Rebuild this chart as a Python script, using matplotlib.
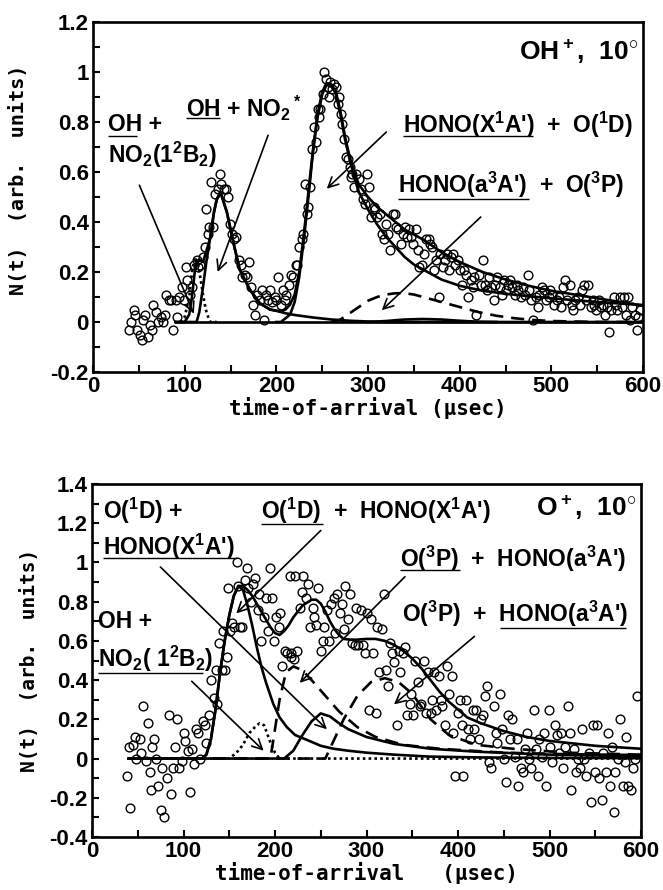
import matplotlib
matplotlib.use("Agg")
import matplotlib.pyplot as plt
from matplotlib.ticker import MultipleLocator, FuncFormatter

plt.rcParams['font.family'] = ['Liberation Sans', 'DejaVu Sans']
plt.rcParams['font.weight'] = 'bold'
plt.rcParams['mathtext.fontset'] = 'custom'
plt.rcParams['mathtext.rm'] = 'Liberation Sans:bold'
plt.rcParams['mathtext.bf'] = 'Liberation Sans:bold'
plt.rcParams['mathtext.it'] = 'Liberation Sans:bold'
plt.rcParams['mathtext.default'] = 'bf'

# ---------------- Top panel (OH+, 10 deg) ----------------
top_pts_t = [39,41,45,46,48,51,53,55,57,60,62,64,65,69,71,74,76,78,80,83,85,87,90,92,94,97,99,101,103,106,108,110,113,115,117,120,122,123,125,127,129,131,133,136,138,140,143,145,147,149,152,154,156,159,161,163,166,168,170,172,175,177,179,182,184,186,189,191,193,195,198,200,202,205,207,209,211,214,216,218,221,223,225,228,229,231,233,235,237,239,241,243,245,246,248,251,252,254,256,257,259,261,263,265,267,268,270,272,274,276,278,280,281,283,285,287,290,292,294,297,299,301,303,306,308,310,313,315,317,320,322,324,327,329,331,333,336,338,340,343,345,347,349,352,354,356,359,361,363,366,368,370,372,374,377,379,382,384,386,388,391,393,395,398,400,402,405,407,409,412,414,416,418,421,423,425,428,430,432,434,437,439,441,444,446,448,451,453,455,457,460,462,464,467,469,471,474,476,478,480,483,485,487,490,492,494,497,499,501,503,506,508,510,513,515,517,520,522,524,526,529,531,533,536,538,540,543,545,547,549,552,554,556,559,561,563,565,568,570,572,575,577,579,581,584,586,588,591,593,595,597]
top_pts_y = [-0.03,0.0,0.05,0.03,-0.03,-0.05,-0.07,0.01,0.03,-0.06,-0.01,-0.03,0.07,0.04,0.0,0.02,0.0,0.03,0.11,0.09,0.09,-0.03,0.09,0.02,0.1,0.14,0.09,0.22,0.17,0.11,0.14,0.23,0.25,0.22,0.23,0.26,0.3,0.45,0.35,0.38,0.56,0.38,0.51,0.53,0.59,0.55,0.53,0.53,0.5,0.39,0.35,0.33,0.34,0.25,0.23,0.18,0.19,0.18,0.24,0.14,0.07,0.03,0.11,0.09,0.13,0.01,0.11,0.09,0.13,0.08,0.1,0.09,0.18,0.07,0.13,0.09,0.11,0.15,0.19,0.18,0.23,0.23,0.3,0.33,0.35,0.55,0.43,0.46,0.54,0.69,0.78,0.72,0.85,0.82,0.85,0.91,1.0,0.97,0.94,0.9,0.96,0.93,0.95,0.94,0.87,0.9,0.83,0.79,0.73,0.66,0.65,0.62,0.58,0.59,0.54,0.59,0.57,0.53,0.49,0.47,0.59,0.54,0.42,0.46,0.45,0.42,0.43,0.35,0.33,0.39,0.35,0.29,0.43,0.43,0.38,0.37,0.31,0.35,0.38,0.34,0.37,0.34,0.31,0.37,0.29,0.22,0.23,0.27,0.33,0.33,0.31,0.3,0.21,0.25,0.1,0.27,0.22,0.25,0.27,0.21,0.26,0.27,0.23,0.25,0.21,0.15,0.21,0.19,0.1,0.17,0.14,0.18,0.03,0.19,0.15,0.25,0.15,0.13,0.18,0.14,0.09,0.15,0.18,0.14,0.11,0.17,0.13,0.15,0.17,0.14,0.11,0.15,0.13,0.1,0.14,0.11,0.19,0.13,0.09,0.01,0.1,0.06,0.11,0.14,0.13,0.09,0.1,0.13,0.11,0.07,0.09,0.1,0.06,0.14,0.17,0.09,0.15,0.07,0.05,0.09,0.1,0.07,0.13,0.15,0.09,0.15,0.06,0.09,0.07,0.05,0.09,0.06,0.07,0.03,0.06,-0.04,0.05,0.1,0.07,0.05,0.1,0.06,0.1,0.03,0.1,0.01,0.06,0.03,-0.03,0.02,0.05]

# total fit
top_total_t = [90,100,105,108,111,113,116,120,125,128,132,135,139,146,153,160,171,182,193,200,205,210,215,220,225,230,235,240,245,250,255,260,265,270,275,280,285,290,300,310,320,330,340,350,360,380,400,425,450,475,500,525,550,575,600]
top_total_y = [0,0.0,0.03,0.1,0.2,0.24,0.25,0.24,0.3,0.34,0.44,0.49,0.52,0.44,0.32,0.21,0.13,0.075,0.05,0.045,0.043,0.05,0.07,0.11,0.2,0.35,0.52,0.69,0.83,0.92,0.955,0.95,0.92,0.84,0.74,0.66,0.6,0.55,0.5,0.46,0.43,0.4,0.37,0.35,0.33,0.28,0.24,0.2,0.17,0.145,0.125,0.11,0.095,0.08,0.065]
# OH + NO2(1 2B2) component (dotted)
top_a_t = [95,100,105,108,111,114,117,120,123,126,128,135]
top_a_y = [0,0.02,0.1,0.2,0.26,0.24,0.18,0.11,0.05,0.015,0,0]
# OH + NO2* component (solid)
top_b_t = [90,113,116,120,124,128,132,135,139,146,153,160,171,182,193,200,210,220,240,260,280,300,320,600]
top_b_y = [0,0,0.04,0.14,0.25,0.34,0.44,0.49,0.52,0.44,0.32,0.21,0.13,0.075,0.05,0.045,0.035,0.028,0.018,0.01,0.005,0.002,0,0]
# HONO(X1A') + O(1D) component (solid)
top_c_t = [200,205,215,220,225,230,235,240,245,250,255,260,265,270,275,280,285,290,300,310,320,330,340,350,360,380,400,425,450,475,500,550,600]
top_c_y = [0,0,0.03,0.08,0.18,0.33,0.5,0.68,0.82,0.91,0.95,0.95,0.91,0.83,0.73,0.65,0.58,0.52,0.45,0.39,0.34,0.3,0.26,0.23,0.21,0.17,0.145,0.125,0.113,0.103,0.095,0.08,0.068]
# HONO(a3A') + O(3P) component (dashed)
top_d_t = [260,270,280,290,300,310,320,330,340,350,360,380,400,420,440,460,480,500,550,600]
top_d_y = [0,0.01,0.035,0.06,0.085,0.1,0.11,0.115,0.115,0.11,0.1,0.08,0.06,0.04,0.025,0.015,0.008,0.004,0.0,0.0]
# small solid bump near baseline
top_e_t = [300,320,340,360,380,400,420,440]
top_e_y = [0,0.004,0.01,0.012,0.01,0.005,0.001,0]

# ---------------- Bottom panel (O+, 10 deg) ----------------
bot_pts_t = [38,40,42,45,47,48,52,54,56,59,61,63,65,66,68,70,72,75,77,79,82,84,86,88,91,93,95,98,100,102,105,107,109,112,114,116,118,121,123,125,128,130,133,135,137,139,142,143,145,148,149,151,153,155,158,160,162,164,167,169,171,174,176,178,181,183,185,188,190,192,194,197,199,201,204,206,208,211,213,216,217,218,221,222,224,227,229,231,234,236,238,241,243,245,247,250,252,254,257,259,261,264,266,268,271,273,275,277,280,282,284,287,289,291,294,296,298,300,303,305,307,310,312,314,317,319,321,324,326,328,330,333,335,337,340,342,344,347,349,351,353,356,358,360,363,365,367,370,372,374,376,379,381,383,386,388,390,393,395,397,400,402,404,406,409,411,413,416,418,420,423,425,427,429,432,434,436,439,441,443,446,448,450,453,455,457,459,462,464,466,469,471,473,475,478,480,483,485,487,489,492,494,496,499,501,503,506,508,510,513,515,517,520,522,524,527,529,531,533,536,538,540,543,545,548,550,552,554,557,559,562,564,566,568,570,572,575,577,580,582,584,586,589,591,593,596]
bot_pts_y = [-0.09,0.06,-0.25,0.07,0.11,0.0,0.1,0.03,0.27,-0.01,0.18,-0.07,-0.16,0.06,0.1,0.0,-0.14,-0.26,-0.05,-0.3,-0.1,0.22,-0.18,-0.05,0.06,0.2,-0.05,-0.01,0.13,0.09,0.04,-0.17,0.05,-0.03,0.15,0.13,0.0,0.19,0.17,0.08,0.22,0.4,0.31,0.45,0.28,0.59,0.45,0.65,0.45,0.52,0.87,0.65,0.69,0.67,1.0,0.88,0.67,0.67,0.91,0.97,0.87,0.8,0.89,0.92,0.76,0.84,0.6,0.72,0.82,0.65,0.97,0.82,0.6,0.72,0.67,0.74,0.47,0.55,0.54,0.93,0.52,0.54,0.51,0.93,0.55,0.77,0.85,0.93,0.82,0.89,0.67,0.77,0.72,0.68,0.87,0.55,0.6,0.67,0.76,0.6,0.79,0.82,0.64,0.84,0.74,0.79,0.66,0.88,0.71,0.84,0.59,0.58,0.77,0.58,0.76,0.58,0.54,0.74,0.25,0.71,0.54,0.23,0.67,0.44,0.66,0.84,0.45,0.37,0.59,0.54,0.49,0.17,0.55,0.44,0.54,0.57,0.22,0.28,0.33,0.22,0.5,0.39,0.27,0.28,0.5,0.23,0.44,0.23,0.3,0.44,0.25,0.42,0.3,0.27,0.17,0.47,0.33,0.42,0.13,-0.09,0.23,0.3,0.17,-0.09,0.3,0.15,0.1,0.25,0.15,0.25,0.1,0.2,0.22,0.32,0.37,-0.02,-0.05,0.27,0.13,0.08,0.33,0.15,0.0,-0.12,0.22,0.1,0.2,0.01,0.1,-0.14,-0.05,-0.07,0.05,0.13,0.0,-0.05,0.25,0.05,-0.09,0.1,0.01,0.13,-0.14,0.25,0.06,-0.02,0.17,0.12,0.03,0.13,-0.05,0.06,0.27,0.13,-0.16,0.05,-0.07,0.0,-0.05,0.15,0.0,-0.09,0.03,-0.22,0.17,-0.07,0.17,-0.1,-0.21,0.03,-0.07,0.13,-0.14,0.06,-0.27,-0.07,0.0,0.2,-0.14,-0.02,0.11,-0.14,-0.16,-0.05,0.0,0.32]

bot_total_t = [40,120,125,130,135,140,145,150,155,160,165,170,175,180,185,190,195,200,205,210,215,220,230,240,245,250,255,260,265,270,275,285,300,310,320,330,340,350,360,370,380,390,400,410,425,450,475,500,550,600]
bot_total_y = [0,0,0.02,0.1,0.25,0.44,0.6,0.73,0.83,0.88,0.88,0.86,0.83,0.79,0.75,0.71,0.67,0.64,0.63,0.65,0.68,0.72,0.78,0.81,0.81,0.79,0.75,0.7,0.66,0.63,0.61,0.605,0.61,0.61,0.6,0.58,0.55,0.51,0.46,0.4,0.34,0.29,0.25,0.21,0.18,0.14,0.11,0.09,0.065,0.05]
# O(1D) + HONO(X1A') component (solid)
bot_a_t = [40,120,125,130,135,140,145,150,155,160,165,170,175,180,185,190,198,205,213,222,235,250,264,280,300,330,369,420,500,600]
bot_a_y = [0,0,0.02,0.1,0.25,0.44,0.6,0.73,0.83,0.88,0.86,0.78,0.68,0.57,0.47,0.39,0.28,0.21,0.16,0.12,0.095,0.065,0.05,0.04,0.03,0.02,0.01,0.006,0.003,0.002]
# small solid component
bot_b_t = [40,210,220,230,240,250,260,270,280,300,330,370,420,500,600]
bot_b_y = [0,0,0.04,0.12,0.19,0.23,0.215,0.18,0.15,0.11,0.075,0.05,0.035,0.02,0.012]
# OH + NO2(1 2B2) component (dotted)
bot_c_t = [40,150,158,165,172,178,183,188,192,196,200,205,600]
bot_c_y = [0,0,0.03,0.07,0.13,0.16,0.18,0.17,0.12,0.07,0.03,0,0]
# O(3P) + HONO(a3A') first (dashed)
bot_d_t = [40,195,200,205,212,220,230,240,255,270,290,310,340,380,450,520,600]
bot_d_y = [0,0,0.15,0.3,0.44,0.47,0.45,0.4,0.32,0.24,0.16,0.11,0.07,0.05,0.03,0.022,0.018]
# O(3P) + HONO(a3A') second (dashed)
bot_e_t = [40,255,265,275,290,305,320,335,350,370,390,420,460,520,600]
bot_e_y = [0,0,0.1,0.2,0.32,0.39,0.41,0.39,0.33,0.2,0.12,0.07,0.05,0.03,0.02]

fig = plt.figure(figsize=(6.63, 8.9), dpi=100)
ax1 = fig.add_axes([93/663, 1-372/890, 550/663, 350/890])
ax2 = fig.add_axes([92/663, 1-837/890, 549/663, 353/890])

LW = 1.9
MS = 6.3
FS = 16.5       # annotation text
TFS = 16        # tick labels
XFONT = dict(family='DejaVu Sans Mono', weight='bold', size=15)
YFONT1 = dict(family='DejaVu Sans Mono', weight='bold', size=14.5)
YFONT2 = dict(family='DejaVu Sans Mono', weight='bold', size=14)

def style(ax, ymin, ymax):
    ax.set_xlim(0, 600)
    ax.set_ylim(ymin, ymax)
    ax.xaxis.set_major_locator(MultipleLocator(100))
    ax.xaxis.set_minor_locator(MultipleLocator(50))
    ax.yaxis.set_major_locator(MultipleLocator(0.2))
    ax.yaxis.set_minor_locator(MultipleLocator(0.1))
    ax.yaxis.set_major_formatter(FuncFormatter(lambda v, p: f"{v:g}" if abs(v) > 1e-9 else "0"))
    ax.tick_params(which='both', direction='in', top=False, right=False, width=1.5)
    ax.tick_params(which='major', length=5, labelsize=TFS, pad=3)
    ax.tick_params(which='minor', length=5)
    for s in ax.spines.values():
        s.set_linewidth(1.9)
    for lab in ax.get_xticklabels() + ax.get_yticklabels():
        lab.set_fontweight('bold')

def underline(ax, t0, t1, y):
    ax.plot([t0, t1], [y, y], color='black', lw=1.0, solid_capstyle='butt')

def arrow(ax, start, end):
    ax.annotate('', xy=end, xytext=start,
                arrowprops=dict(arrowstyle='->', lw=1.2, color='black',
                                mutation_scale=18, shrinkA=0, shrinkB=0))

# ---- top ----
style(ax1, -0.2, 1.2)
ax1.plot(top_pts_t, top_pts_y, 'o', mfc='none', mec='black', ms=MS, mew=1.0)
ax1.plot([90, 600], [0, 0], color='black', lw=LW)
ax1.plot(top_a_t, top_a_y, color='black', lw=LW, ls=(0, (1, 1.2)))
ax1.plot(top_b_t, top_b_y, color='black', lw=LW)
ax1.plot(top_c_t, top_c_y, color='black', lw=LW)
ax1.plot(top_d_t, top_d_y, color='black', lw=LW, ls=(0, (5, 3)))
ax1.plot(top_e_t, top_e_y, color='black', lw=LW)
ax1.plot(top_total_t, top_total_y, color='black', lw=LW)

ax1.text(16, 0.79, 'OH +', fontsize=FS, va='center', ha='left')
underline(ax1, 16, 48, 0.745)
ax1.text(16, 0.67, r'NO$_2$(1$^2$B$_2$)', fontsize=FS, va='center', ha='left')
arrow(ax1, (50.6, 0.547), (110, 0.033))
ax1.text(101, 0.853, r'OH + NO$_2$$^*$', fontsize=FS, va='center', ha='left')
underline(ax1, 101, 138, 0.815)
arrow(ax1, (191, 0.747), (136, 0.2))
ax1.text(338, 0.787, r"HONO(X$^1$A')  +  O($^1$D)", fontsize=FS, va='center', ha='left')
underline(ax1, 338, 480, 0.745)
arrow(ax1, (320, 0.76), (255, 0.533))
ax1.text(333, 0.547, r"HONO(a$^3$A')  +  O($^3$P)", fontsize=FS, va='center', ha='left')
underline(ax1, 333, 476, 0.493)
arrow(ax1, (423, 0.42), (315, 0.047))
ax1.text(595, 1.08, r'OH$^+$,  10$^{\circ}$', fontsize=19, va='center', ha='right')

ax1.set_xlabel('time-of-arrival (\u03bcsec)', fontdict=XFONT, labelpad=0)
ax1.set_ylabel('N(t)  (arb.  units)', fontdict=YFONT1)
ax1.yaxis.set_label_coords(-0.118, 0.55)

# ---- bottom ----
style(ax2, -0.4, 1.4)
ax2.plot(bot_pts_t, bot_pts_y, 'o', mfc='none', mec='black', ms=MS, mew=1.0)
ax2.plot(bot_c_t, bot_c_y, color='black', lw=LW, ls=(0, (1, 1.2)))
ax2.plot(bot_d_t, bot_d_y, color='black', lw=LW, ls=(0, (5, 3)))
ax2.plot(bot_e_t, bot_e_y, color='black', lw=LW, ls=(0, (5, 3)))
ax2.plot(bot_a_t, bot_a_y, color='black', lw=LW)
ax2.plot(bot_b_t, bot_b_y, color='black', lw=LW)
ax2.plot(bot_total_t, bot_total_y, color='black', lw=LW)

ax2.text(12, 1.265, r'O($^1$D) +', fontsize=FS, va='center', ha='left')
ax2.text(12, 1.08, r"HONO(X$^1$A')", fontsize=FS, va='center', ha='left')
underline(ax2, 12, 158, 1.025)
arrow(ax2, (74.7, 0.977), (256.7, 0.149))
ax2.text(6.5, 0.70, 'OH +', fontsize=FS, va='center', ha='left')
ax2.text(6.5, 0.51, r'NO$_2$( 1$^2$B$_2$)', fontsize=FS, va='center', ha='left')
underline(ax2, 6.5, 121, 0.437)
arrow(ax2, (109, 0.394), (187.6, 0.04))
ax2.text(185, 1.265, r"O($^1$D)  +  HONO(X$^1$A')", fontsize=FS, va='center', ha='left')
underline(ax2, 185, 252, 1.197)
arrow(ax2, (250, 1.163), (157.6, 0.74))
ax2.text(337, 1.02, r"O($^3$P)  +  HONO(a$^3$A')", fontsize=FS, va='center', ha='left')
underline(ax2, 337, 402, 0.96)
arrow(ax2, (342, 0.927), (227, 0.386))
ax2.text(339, 0.74, r"O($^3$P)  +  HONO(a$^3$A')", fontsize=FS, va='center', ha='left')
underline(ax2, 445.6, 584, 0.665)
arrow(ax2, (418, 0.623), (330, 0.276))
ax2.text(595, 1.28, r'O$^+$,  10$^{\circ}$', fontsize=19, va='center', ha='right')

ax2.set_xlabel('time-of-arrival   (\u03bcsec)', fontdict=XFONT, labelpad=0)
ax2.set_ylabel('N(t)  (arb.  units)', fontdict=YFONT2)
ax2.yaxis.set_label_coords(-0.097, 0.5)

fig.savefig('out.png', dpi=100)
